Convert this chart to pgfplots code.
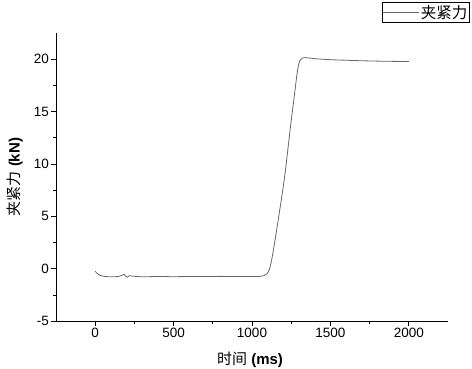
\documentclass[border=0pt]{standalone}
\usepackage{fontspec}
\setmainfont{Liberation Sans}
\newfontfamily\cjk{Noto Sans CJK SC}
\usepackage{pgfplots}
\pgfplotsset{compat=1.18}
\begin{document}
\begin{tikzpicture}
\useasboundingbox (-56pt,-48pt) rectangle (416pt,321pt);
\begin{axis}[
  at={(0,0)}, anchor=south west,
  scale only axis,
  width=392pt, height=288pt,
  xmin=-250, xmax=2250,
  ymin=-5, ymax=22.5,
  axis x line*=bottom, axis y line*=left,
  xtick={0,500,1000,1500,2000},
  ytick={-5,0,5,10,15,20},
  minor x tick num=1, minor y tick num=1,
  tick align=outside,
  major tick length=5pt, minor tick length=3pt,
  tick style={black, line width=0.6pt},
  axis line style={black, line width=0.6pt},
  /pgf/number format/assume math mode=true,
  /pgf/number format/1000 sep={},
  ticklabel style={font=\fontsize{13.5}{15}\selectfont},
  xticklabel style={inner sep=2pt},
  yticklabel style={inner sep=2pt},
  xlabel={{\cjk 时间} \textbf{(ms)}},
  ylabel={{\cjk 夹紧力} \textbf{(kN)}},
  label style={font=\fontsize{15}{17}\selectfont},
  xlabel style={at={(axis description cs:0.495,-0.136)}, anchor=center},
  ylabel style={at={(axis description cs:-0.105,0.5)}, anchor=center, rotate=0},
  legend style={at={(1.056,1.106)}, anchor=north east, draw=black, line width=0.5pt,
    font=\fontsize{15.5}{16}\selectfont\cjk, inner sep=0.3pt},
  legend cell align=left,
  legend image code/.code={\draw[#1, line width=0.6pt] (0pt,0pt) -- (36pt,0pt);},
]
\addplot[color=black!60, line width=0.8pt, smooth] coordinates {
(0,-0.25) (20,-0.55) (50,-0.72) (100,-0.78) (150,-0.74) (175,-0.6) (185,-0.55)
(195,-0.75) (205,-0.82) (215,-0.68) (240,-0.72) (300,-0.78) (400,-0.75) (500,-0.77)
(600,-0.75) (700,-0.76) (800,-0.74) (900,-0.76) (1000,-0.75) (1050,-0.74)
(1075,-0.68) (1095,-0.5) (1110,-0.1) (1125,0.8) (1150,3.0) (1180,5.9)
(1210,9.0) (1245,13.5) (1270,16.5) (1290,18.9) (1305,19.85) (1320,20.1)
(1340,20.15) (1400,20.05) (1500,19.95) (1600,19.9) (1700,19.85) (1850,19.8) (2000,19.78)
};
\addlegendentry{夹紧力}
\end{axis}
\end{tikzpicture}
\end{document}
